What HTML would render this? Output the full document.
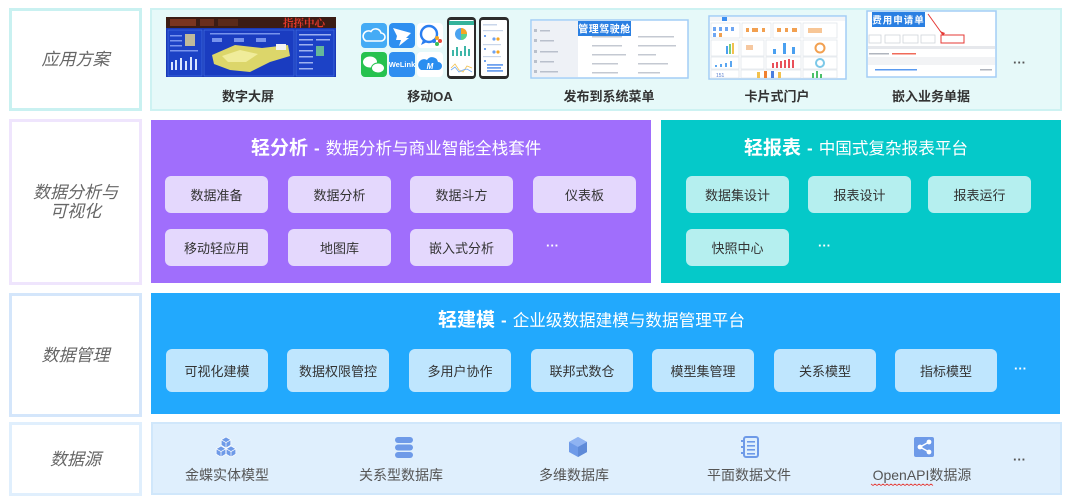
<!DOCTYPE html>
<html><head><meta charset="utf-8">
<style>
*{margin:0;padding:0;box-sizing:border-box}
body{width:1080px;height:503px;background:#fff;position:relative;overflow:hidden;font-family:"Liberation Sans","Noto Sans CJK SC",sans-serif}
.a{position:absolute}
.lb{position:absolute;left:9px;width:133px;border:3px solid;background:#fff;display:flex;align-items:center;justify-content:center;text-align:center;font-style:italic;color:#666;font-size:17px;line-height:19px}
.chip{position:absolute;border-radius:6px;font-size:13px;color:#333;display:flex;align-items:center;justify-content:center;white-space:nowrap}
.p{background:#e4d8fd;width:103px;height:37px}
.t{background:#b5efef;width:103px;height:37px}
.b{background:#bfe6fe;width:102px;height:43px}
.ttl{position:absolute;color:#fff;white-space:nowrap;display:flex;align-items:baseline}
.ttl b{font-size:19px;font-weight:bold}
.ttl i{font-style:normal;font-weight:bold;font-size:17px;margin:0 6px}
.ttl span{font-size:16.6px}
.l1{position:absolute;width:150px;text-align:center;font-size:13px;font-weight:bold;color:#333;top:88px;height:18px;line-height:18px;white-space:nowrap}
.l4{position:absolute;width:150px;text-align:center;font-size:14px;color:#555;top:466px;height:18px;line-height:18px;white-space:nowrap}
.dots{position:absolute;font-size:13px;font-weight:bold;letter-spacing:0px;line-height:10px}
</style></head><body>

<!-- Row 1 -->
<div class="lb" style="top:8px;height:103px;border-color:#c9f1f1">应用方案</div>
<div class="a" style="left:150px;top:8px;width:912px;height:103px;background:#e6f9f9;border:2px solid #cdf2f2"></div>

<!-- Row 2 -->
<div class="lb" style="top:119px;height:166px;border-color:#efe5fd">数据分析与<br>可视化</div>
<div class="a" style="left:151px;top:120px;width:500px;height:163px;background:#a06efc"></div>
<div class="a" style="left:661px;top:120px;width:400px;height:163px;background:#05c9c9"></div>

<!-- Row 3 -->
<div class="lb" style="top:293px;height:124px;border-color:#d4e6fb">数据管理</div>
<div class="a" style="left:151px;top:293px;width:909px;height:121px;background:#22a9fd"></div>

<!-- Row 4 -->
<div class="lb" style="top:422px;height:74px;border-color:#e0effd">数据源</div>
<div class="a" style="left:151px;top:422px;width:911px;height:73px;background:#dfeffd;border:2px solid #d0e7fb"></div>

<svg class="a" style="left:0;top:0" width="1080" height="503" viewBox="0 0 1080 503">
  <!-- Big screen -->
  <rect x="166" y="17" width="170" height="60" fill="#1838b8"/>
  <rect x="166" y="17" width="170" height="11" fill="#3b1c14"/>
  <rect x="170" y="19" width="26" height="7" fill="#7a3520"/>
  <rect x="200" y="19" width="14" height="7" fill="#6a2e1c"/>
  <rect x="218" y="19" width="20" height="7" fill="#5a2a1a"/>
  <text x="283" y="26.5" font-size="10.5" font-weight="bold" fill="#e4382a" font-family="Noto Serif CJK SC, serif">指挥中心</text>
  <rect x="168" y="30" width="34" height="46" fill="#1c42c6" stroke="#4a78e6" stroke-width=".6"/>
  <rect x="204" y="30" width="90" height="46" fill="#1a3cc0" stroke="#4a78e6" stroke-width=".6"/>
  <rect x="296" y="30" width="38" height="46" fill="#1c42c6" stroke="#4a78e6" stroke-width=".6"/>
  <rect x="185" y="34" width="10" height="12" fill="#e8d890" opacity=".8"/>
  <g fill="#d8e4ff"><rect x="171" y="62" width="2" height="8"/><rect x="175" y="60" width="2" height="10"/><rect x="180" y="58" width="2" height="12"/><rect x="185" y="61" width="2" height="9"/><rect x="190" y="57" width="2" height="13"/><rect x="195" y="59" width="2" height="11"/></g>
  <g fill="#9fb8ff" opacity=".7"><rect x="170" y="35" width="12" height="1.5"/><rect x="170" y="40" width="12" height="1.5"/><rect x="170" y="45" width="12" height="1.5"/><rect x="170" y="50" width="28" height="1.5"/></g>
  <g fill="#9fb8ff" opacity=".7"><rect x="210" y="33" width="70" height="1.5"/><rect x="212" y="38" width="10" height="4"/><rect x="234" y="38" width="10" height="4"/><rect x="256" y="38" width="10" height="4"/></g>
  <polygon points="212,55 235,45 262,48 288,45 290,56 270,62 250,72 230,70 214,64" fill="#dcd66a"/>
  <polygon points="222,56 240,50 258,54 246,62 228,62" fill="#f0ec9a"/>
  <rect x="276" y="44" width="10" height="6" fill="#f2f2f2"/>
  <g fill="#c8d6ff" opacity=".75"><rect x="299" y="34" width="32" height="1.5"/><rect x="299" y="39" width="14" height="1.5"/><rect x="316" y="39" width="14" height="1.5"/><rect x="299" y="44" width="14" height="1.5"/><rect x="316" y="46" width="8" height="10" fill="#7fe08a"/><rect x="299" y="50" width="14" height="1.5"/><rect x="299" y="56" width="14" height="1.5"/><rect x="299" y="62" width="14" height="1.5"/><rect x="299" y="68" width="14" height="1.5"/></g>

  <!-- Mobile icons -->
  <rect x="361" y="23" width="26" height="25" rx="4" fill="#45abf5"/>
  <path d="M366 41 h15 a4 4 0 0 0 0-8 a5.5 5.5 0 0 0-10-1.5 a4.2 4.2 0 0 0-5 9.5z" fill="none" stroke="#fff" stroke-width="1.6"/>
  <rect x="389" y="23" width="26" height="25" rx="4" fill="#2e8ff0"/>
  <path d="M393 28 L411 33 L406 38 L409 38 L399 46 L401 40 L396 40 L397 36 Z" fill="#fff"/>
  <rect x="417" y="23" width="26" height="25" rx="4" fill="#fff"/>
  <circle cx="429" cy="34" r="8" fill="none" stroke="#2a7ef0" stroke-width="2.4"/>
  <path d="M423 40 L421 45 L427 42" fill="#2a7ef0"/>
  <circle cx="437" cy="38" r="2" fill="#f5a623"/><circle cx="440" cy="41" r="2" fill="#e94b3c"/><circle cx="437" cy="44" r="2" fill="#34c05a"/><circle cx="434" cy="41" r="2" fill="#2a7ef0"/>
  <rect x="361" y="52" width="26" height="25" rx="4" fill="#26c24f"/>
  <ellipse cx="370" cy="62" rx="7" ry="5.5" fill="#fff"/>
  <ellipse cx="378" cy="68" rx="6.5" ry="5" fill="#fff" stroke="#26c24f" stroke-width="1"/>
  <rect x="389" y="52" width="26" height="25" rx="4" fill="#2f8ef0"/>
  <text x="402" y="67" font-size="7.5" font-weight="bold" fill="#fff" text-anchor="middle" font-family="Liberation Sans, sans-serif">WeLink</text>
  <rect x="417" y="52" width="26" height="25" rx="4" fill="#fff"/>
  <path d="M421 70 h17 a4 4 0 0 0 0-8 a6 6 0 0 0-11-2 a4.5 4.5 0 0 0-6 10z" fill="#2a8ef0"/>
  <text x="430" y="69" font-size="8" font-weight="bold" fill="#fff" text-anchor="middle" font-style="italic" font-family="Liberation Sans, sans-serif">M</text>

  <!-- Phones -->
  <rect x="447" y="17" width="29" height="62" rx="4" fill="#2b2b2b"/>
  <rect x="449" y="20" width="25" height="56" rx="1.5" fill="#fff"/>
  <rect x="449" y="21" width="25" height="4" fill="#35b39b"/>
  <circle cx="461" cy="34" r="6" fill="#4aa3f0"/>
  <path d="M461 34 L461 28 A6 6 0 0 1 467 34 Z" fill="#f5a623"/>
  <path d="M461 34 L467 34 A6 6 0 0 1 461 40 Z" fill="#5bd28a"/>
  <g fill="#3fb6a8"><rect x="452" y="50" width="2" height="6"/><rect x="456" y="47" width="2" height="9"/><rect x="460" y="51" width="2" height="5"/><rect x="464" y="46" width="2" height="10"/><rect x="468" y="49" width="2" height="7"/></g>
  <polyline points="451,68 455,64 459,70 463,72 467,66 472,68" fill="none" stroke="#f2c14e" stroke-width=".8"/>
  <polyline points="451,70 455,67 459,72 463,70 467,69 472,72" fill="none" stroke="#6fa8f0" stroke-width=".8"/>
  <rect x="479" y="17" width="30" height="62" rx="4" fill="#2b2b2b"/>
  <rect x="481" y="20" width="26" height="56" rx="1.5" fill="#fff"/>
  <g fill="#c9d6ea"><rect x="483" y="24" width="14" height="1.5"/><rect x="483" y="30" width="20" height="1.2"/><rect x="483" y="44" width="18" height="1.2"/><rect x="483" y="56" width="18" height="1.2"/></g>
  <g fill="#6fa2ef"><rect x="484" y="35" width="2" height="2"/><rect x="484" y="48" width="2" height="2"/><rect x="484" y="60" width="2" height="2"/><rect x="487" y="64" width="16" height="1.8"/><rect x="487" y="67" width="14" height="1.8"/><rect x="487" y="70" width="16" height="1.8"/></g>
  <circle cx="498" cy="39" r="1.6" fill="#f5a623"/><circle cx="494" cy="39" r="1.6" fill="#6fa2ef"/>
  <circle cx="498" cy="52" r="1.6" fill="#f5a623"/><circle cx="494" cy="52" r="1.6" fill="#6fa2ef"/>

  <!-- Screenshot 3 -->
  <rect x="531" y="20" width="157" height="58" fill="#fff" stroke="#a3cdf5" stroke-width="1.5"/>
  <rect x="532" y="21" width="46" height="56" fill="#eef1f6"/>
  <g fill="#b9c0cc"><rect x="534" y="29" width="3" height="3"/><rect x="540" y="30" width="10" height="1.5"/><rect x="534" y="39" width="3" height="3"/><rect x="540" y="40" width="14" height="1.5"/><rect x="534" y="50" width="3" height="3"/><rect x="540" y="51" width="18" height="1.5"/><rect x="534" y="60" width="3" height="3"/><rect x="540" y="61" width="14" height="1.5"/><rect x="534" y="70" width="3" height="3"/><rect x="540" y="71" width="18" height="1.5"/></g>
  <rect x="578" y="21" width="53" height="15" fill="#2a7fe2"/>
  <text x="604.5" y="32.5" font-size="10" font-weight="bold" fill="#fff" text-anchor="middle" letter-spacing=".5">管理驾驶舱</text>
  <g fill="#c4c9d2"><rect x="592" y="45" width="30" height="1.5"/><rect x="638" y="45" width="38" height="1.5"/><rect x="592" y="54" width="34" height="1.5"/><rect x="638" y="54" width="18" height="1.5"/><rect x="592" y="63" width="26" height="1.5"/><rect x="638" y="63" width="30" height="1.5"/><rect x="592" y="72" width="26" height="1.5"/><rect x="638" y="72" width="22" height="1.5"/><rect x="592" y="36" width="30" height="1.5"/><rect x="638" y="36" width="36" height="1.5"/></g>

  <!-- Screenshot 4 -->
  <rect x="709" y="16" width="137" height="63" fill="#fff" stroke="#a3cdf5" stroke-width="1.5"/>
  <rect x="710" y="17" width="135" height="4" fill="#f3f5f8"/>
  <rect x="722" y="17" width="5" height="4" fill="#3b8ef0"/>
  <g fill="none" stroke="#e2e6eb" stroke-width=".8">
    <rect x="711" y="23" width="29" height="15"/><rect x="742" y="23" width="29" height="15"/><rect x="773" y="23" width="28" height="15"/><rect x="803" y="23" width="34" height="15"/>
    <rect x="711" y="40" width="28" height="16"/><rect x="741" y="40" width="23" height="16"/><rect x="766" y="40" width="35" height="16"/><rect x="803" y="40" width="34" height="16"/>
    <rect x="711" y="57" width="28" height="12"/><rect x="741" y="57" width="23" height="12"/><rect x="766" y="57" width="35" height="12"/><rect x="803" y="57" width="34" height="12"/>
    <rect x="711" y="70" width="28" height="8"/><rect x="741" y="70" width="60" height="8"/><rect x="803" y="70" width="34" height="8"/>
  </g>
  <g fill="#6ea6f2"><rect x="713" y="27" width="3" height="4"/><rect x="719" y="27" width="3" height="4"/><rect x="725" y="27" width="3" height="4"/><rect x="731" y="27" width="3" height="4"/><rect x="713" y="33" width="3" height="4"/></g>
  <rect x="719" y="33" width="3" height="4" fill="#f0a050"/>
  <g fill="#f2a050"><rect x="746" y="28" width="3" height="4"/><rect x="752" y="28" width="6" height="4"/><rect x="762" y="28" width="3" height="4"/><rect x="777" y="28" width="4" height="4"/><rect x="785" y="28" width="3" height="4"/><rect x="792" y="28" width="5" height="4"/><rect x="808" y="28" width="14" height="5" opacity=".6"/></g>
  <g fill="#4aa0f0"><rect x="726" y="46" width="2" height="8"/><rect x="729" y="44" width="2" height="10" fill="#7bd07a"/><rect x="732" y="43" width="2" height="11" fill="#f2c14e"/><rect x="773" y="49" width="3" height="5"/><rect x="783" y="43" width="3" height="11"/><rect x="792" y="47" width="3" height="7"/></g>
  <rect x="746" y="45" width="7" height="5" fill="#f6c8a0"/>
  <circle cx="820" cy="48" r="4.5" fill="none" stroke="#f2a050" stroke-width="2"/>
  <circle cx="820" cy="63" r="4" fill="none" stroke="#7bc8e8" stroke-width="2"/>
  <g fill="#e9505a"><rect x="772" y="63" width="2" height="5"/><rect x="776" y="62" width="2" height="6"/><rect x="780" y="61" width="2" height="7"/><rect x="784" y="60" width="2" height="8"/><rect x="788" y="59" width="2" height="9"/><rect x="792" y="60" width="2" height="8"/></g>
  <g fill="#5aa6f0"><rect x="715" y="65" width="2" height="2"/><rect x="720" y="64" width="2" height="3"/><rect x="725" y="63" width="2" height="4"/><rect x="730" y="61" width="2" height="6"/></g>
  <text x="716" y="77" font-size="5" fill="#5a7fcf" font-family="Liberation Sans, sans-serif">151</text>
  <g><rect x="757" y="72" width="3" height="6" fill="#f2c14e"/><rect x="764" y="71" width="3" height="7" fill="#f08030"/><rect x="771" y="71" width="3" height="7" fill="#4a7fe0"/><rect x="778" y="72" width="3" height="6" fill="#f2c14e"/></g>
  <g fill="#4cc06a"><rect x="812" y="73" width="2" height="5"/><rect x="816" y="71" width="2" height="7"/><rect x="820" y="74" width="2" height="4"/></g>

  <!-- Screenshot 5 -->
  <rect x="867" y="11" width="129" height="66" fill="#fff" stroke="#a3cdf5" stroke-width="1.5"/>
  <rect x="872" y="12" width="53" height="15" fill="#2a7fe2"/>
  <text x="898.5" y="23.5" font-size="9.5" font-weight="bold" fill="#fff" text-anchor="middle" letter-spacing="1">费用申请单</text>
  <line x1="928" y1="14" x2="943" y2="35" stroke="#e53935" stroke-width="1"/>
  <polygon points="943,36 940,31 945,33" fill="#e53935"/>
  <rect x="941" y="35" width="23" height="8" fill="none" stroke="#e53935" stroke-width="1"/>
  <g fill="none" stroke="#d0d4da" stroke-width=".8"><rect x="869" y="35" width="12" height="8"/><rect x="885" y="35" width="15" height="8"/><rect x="903" y="35" width="15" height="8"/><rect x="921" y="35" width="14" height="8"/></g>
  <rect x="868" y="46" width="127" height="3" fill="#e6e8ec"/>
  <rect x="869" y="53" width="20" height="1.5" fill="#b0b5be"/><rect x="892" y="53" width="24" height="1.5" fill="#f06b5a"/>
  <rect x="868" y="57" width="127" height="8" fill="#f2f3f5"/>
  <rect x="875" y="69" width="42" height="1.5" fill="#5a9af0"/><rect x="980" y="69" width="12" height="1.5" fill="#b0b5be"/>

  <!-- Row 4 icons -->
  <g fill="#6e9ae8" stroke="#fff" stroke-width=".7">
    <polygon points="226,437 230.8,439.8 230.8,445.2 226,448 221.2,445.2 221.2,439.8"/>
    <polygon points="221,446 225.8,448.8 225.8,454.2 221,457 216.2,454.2 216.2,448.8"/>
    <polygon points="231,446 235.8,448.8 235.8,454.2 231,457 226.2,454.2 226.2,448.8"/>
    <polyline points="221.2,439.8 226,442.6 230.8,439.8" fill="none"/><line x1="226" y1="442.6" x2="226" y2="448"/>
    <polyline points="216.2,448.8 221,451.6 225.8,448.8" fill="none"/><line x1="221" y1="451.6" x2="221" y2="457"/>
    <polyline points="226.2,448.8 231,451.6 235.8,448.8" fill="none"/><line x1="231" y1="451.6" x2="231" y2="457"/>
  </g>
  <g fill="#6e9ae8">
    <rect x="395" y="437" width="18" height="6" rx="3"/>
    <rect x="395" y="444.5" width="18" height="6" rx="3"/>
    <rect x="395" y="452" width="18" height="6" rx="3"/>
  </g>
  <polygon points="578,437 587,442 587,452 578,457 569,452 569,442" fill="#6e9ae8"/>
  <polygon points="578,437 587,442 578,447 569,442" fill="#8fb3f2"/>
  <polygon points="578,447 587,442 587,452 578,457" fill="#5e8ad8"/>
  <rect x="744" y="437" width="14" height="20" rx="2" fill="none" stroke="#6e9ae8" stroke-width="2"/>
  <g fill="#6e9ae8"><rect x="747" y="441" width="8" height="1.6"/><rect x="747" y="445" width="8" height="1.6"/><rect x="747" y="449" width="8" height="1.6"/><rect x="747" y="453" width="8" height="1.6"/><rect x="741" y="440" width="4" height="2"/><rect x="741" y="446" width="4" height="2"/><rect x="741" y="452" width="4" height="2"/></g>
  <rect x="914" y="437" width="20" height="20" rx="2" fill="#6e9ae8"/>
  <g stroke="#fff" stroke-width="1.4"><line x1="920" y1="447" x2="929" y2="442"/><line x1="920" y1="447" x2="929" y2="452"/></g>
  <g fill="#fff"><circle cx="920" cy="447" r="2.4"/><circle cx="929" cy="442" r="2.4"/><circle cx="929" cy="452" r="2.4"/></g>
  <polyline points="871,484 873,485.5 875,484 877,485.5 879,484 881,485.5 883,484 885,485.5 887,484 889,485.5 891,484 893,485.5 895,484 897,485.5 899,484 901,485.5 903,484 905,485.5 907,484 909,485.5 911,484 913,485.5 915,484 917,485.5 919,484 921,485.5 923,484 925,485.5 927,484 929,485.5 931,484 933,485.5" fill="none" stroke="#e53935" stroke-width=".8"/>
</svg>

<!-- Row 1 labels -->
<div class="l1" style="left:173px">数字大屏</div>
<div class="l1" style="left:355px">移动OA</div>
<div class="l1" style="left:534px">发布到系统菜单</div>
<div class="l1" style="left:702px">卡片式门户</div>
<div class="l1" style="left:856px">嵌入业务单据</div>
<div class="dots" style="left:1013px;top:58px;color:#555">···</div>

<!-- Row 2 purple -->
<div class="ttl" style="left:251px;top:133px"><b>轻分析</b><i>-</i><span>数据分析与商业智能全栈套件</span></div>
<div class="chip p" style="left:165px;top:176px">数据准备</div>
<div class="chip p" style="left:288px;top:176px">数据分析</div>
<div class="chip p" style="left:410px;top:176px">数据斗方</div>
<div class="chip p" style="left:533px;top:176px">仪表板</div>
<div class="chip p" style="left:165px;top:229px">移动轻应用</div>
<div class="chip p" style="left:288px;top:229px">地图库</div>
<div class="chip p" style="left:410px;top:229px">嵌入式分析</div>
<div class="dots" style="left:546px;top:241px;color:#fff">···</div>

<!-- Row 2 teal -->
<div class="ttl" style="left:744px;top:133px"><b>轻报表</b><i>-</i><span>中国式复杂报表平台</span></div>
<div class="chip t" style="left:686px;top:176px">数据集设计</div>
<div class="chip t" style="left:808px;top:176px">报表设计</div>
<div class="chip t" style="left:928px;top:176px">报表运行</div>
<div class="chip t" style="left:686px;top:229px">快照中心</div>
<div class="dots" style="left:818px;top:241px;color:#fff">···</div>

<!-- Row 3 blue -->
<div class="ttl" style="left:438px;top:305px"><b>轻建模</b><i>-</i><span>企业级数据建模与数据管理平台</span></div>
<div class="chip b" style="left:166px;top:349px">可视化建模</div>
<div class="chip b" style="left:287px;top:349px">数据权限管控</div>
<div class="chip b" style="left:409px;top:349px">多用户协作</div>
<div class="chip b" style="left:531px;top:349px">联邦式数仓</div>
<div class="chip b" style="left:652px;top:349px">模型集管理</div>
<div class="chip b" style="left:774px;top:349px">关系模型</div>
<div class="chip b" style="left:895px;top:349px">指标模型</div>
<div class="dots" style="left:1014px;top:364px;color:#fff">···</div>

<!-- Row 4 labels -->
<div class="l4" style="left:152px">金蝶实体模型</div>
<div class="l4" style="left:326px">关系型数据库</div>
<div class="l4" style="left:499px">多维数据库</div>
<div class="l4" style="left:674px">平面数据文件</div>
<div class="l4" style="left:847px">OpenAPI数据源</div>
<div class="dots" style="left:1013px;top:455px;color:#555">···</div>

</body></html>
